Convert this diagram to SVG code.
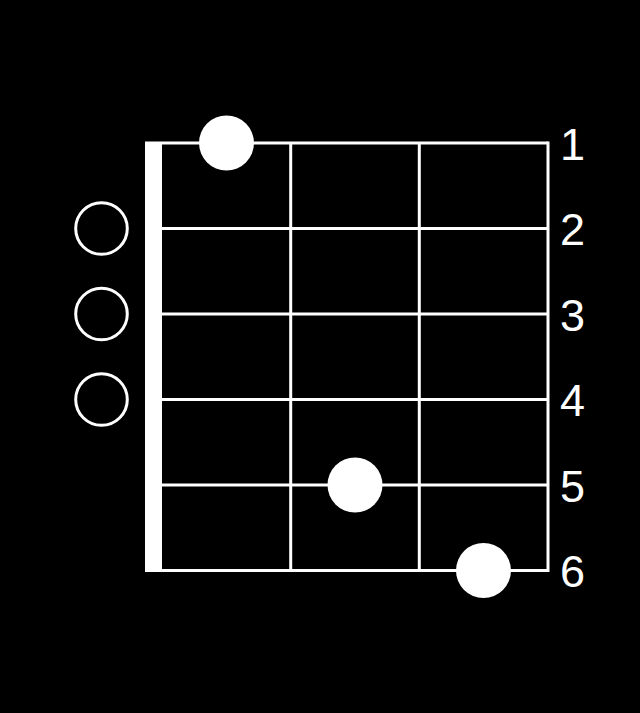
<svg xmlns="http://www.w3.org/2000/svg" width="640" height="713" viewBox="0 0 640 713">
<style>
.l{stroke:#fff;stroke-width:3;fill:none}
.o{stroke:#fff;stroke-width:3;fill:none}
.f{fill:#fff}
.t{fill:#fff;font-family:"Liberation Sans",Arial,sans-serif;font-size:45px}
</style>
<rect width="640" height="713" fill="#000"/>
<g id="grid">
<rect id="nut" x="145" y="141.5" width="17" height="430.5" fill="#fff"/>
<line class="l" x1="162" y1="143" x2="548" y2="143"/>
<line class="l" x1="162" y1="228.5" x2="548" y2="228.5"/>
<line class="l" x1="162" y1="314" x2="548" y2="314"/>
<line class="l" x1="162" y1="399.5" x2="548" y2="399.5"/>
<line class="l" x1="162" y1="485" x2="548" y2="485"/>
<line class="l" x1="162" y1="570.5" x2="548" y2="570.5"/>
<line class="l" x1="290.7" y1="143" x2="290.7" y2="570.5"/>
<line class="l" x1="419.3" y1="143" x2="419.3" y2="570.5"/>
<line class="l" x1="548" y1="141.5" x2="548" y2="572"/>
</g>
<g id="open">
<circle class="o" cx="101.5" cy="228.5" r="25.8"/>
<circle class="o" cx="101.5" cy="314" r="25.8"/>
<circle class="o" cx="101.5" cy="399.5" r="25.8"/>
</g>
<g id="dots">
<circle class="f" cx="226.5" cy="143" r="27.5"/>
<circle class="f" cx="355" cy="485" r="27.5"/>
<circle class="f" cx="483.5" cy="570.5" r="27.5"/>
</g>
<g id="labels">
<text class="t" x="560" y="159.5">1</text>
<text class="t" x="560" y="245">2</text>
<text class="t" x="560" y="330.5">3</text>
<text class="t" x="560" y="416">4</text>
<text class="t" x="560" y="501.5">5</text>
<text class="t" x="560" y="587">6</text>
</g>
</svg>
